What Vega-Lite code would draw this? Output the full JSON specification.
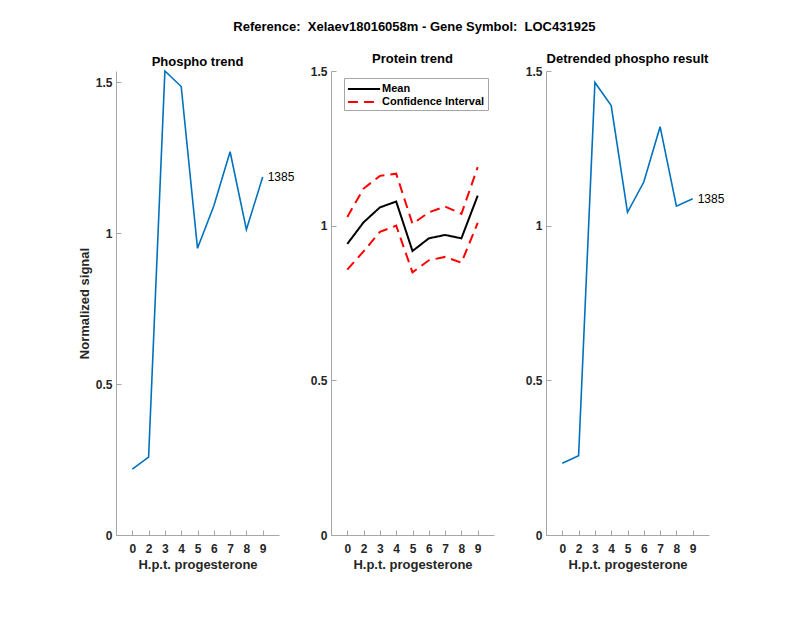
{
  "$schema": "https://vega.github.io/schema/vega-lite/v6.json",
  "background": "white",
  "padding": {"left": 78, "top": 21, "right": 5, "bottom": 5},
  "title": {
    "text": "Reference:\u00a0 Xelaev18016058m - Gene Symbol:\u00a0 LOC431925",
    "anchor": "middle",
    "dx": 13,
    "fontSize": 13,
    "fontWeight": "bold",
    "font": "Liberation Sans",
    "color": "#000000",
    "offset": 19
  },
  "config": {
    "view": {"stroke": null},
    "font": "Liberation Sans",
    "title": {"fontSize": 13, "fontWeight": "bold", "font": "Liberation Sans", "color": "#000000", "offset": -1},
    "axis": {
      "domainColor": "#a6a6a6",
      "tickColor": "#a6a6a6",
      "tickSize": -5,
      "grid": false,
      "labelFont": "Liberation Sans",
      "labelFontSize": 12,
      "labelFontWeight": "bold",
      "labelColor": "#262626",
      "titleFont": "Liberation Sans",
      "titleFontSize": 13,
      "titleFontWeight": "bold",
      "titleColor": "#262626"
    },
    "axisX": {"labelAngle": 0, "labelPadding": 13, "titlePadding": 4},
    "axisY": {"labelPadding": 9, "titlePadding": 4},
    "legend": {
      "labelFont": "Liberation Sans",
      "labelFontSize": 11,
      "labelFontWeight": "bold",
      "labelColor": "#000000"
    }
  },
  "datasets": {
    "phospho": [
      {"hpt": 0, "signal": 0.218, "id": "1385"},
      {"hpt": 2, "signal": 0.258, "id": "1385"},
      {"hpt": 3, "signal": 1.5375, "id": "1385"},
      {"hpt": 4, "signal": 1.486, "id": "1385"},
      {"hpt": 5, "signal": 0.950, "id": "1385"},
      {"hpt": 6, "signal": 1.090, "id": "1385"},
      {"hpt": 7, "signal": 1.270, "id": "1385"},
      {"hpt": 8, "signal": 1.012, "id": "1385"},
      {"hpt": 9, "signal": 1.186, "id": "1385"}
    ],
    "protein": [
      {"hpt": 0, "series": "Mean", "kind": "Mean", "signal": 0.941},
      {"hpt": 2, "series": "Mean", "kind": "Mean", "signal": 1.011},
      {"hpt": 3, "series": "Mean", "kind": "Mean", "signal": 1.059},
      {"hpt": 4, "series": "Mean", "kind": "Mean", "signal": 1.078},
      {"hpt": 5, "series": "Mean", "kind": "Mean", "signal": 0.918},
      {"hpt": 6, "series": "Mean", "kind": "Mean", "signal": 0.959},
      {"hpt": 7, "series": "Mean", "kind": "Mean", "signal": 0.970},
      {"hpt": 8, "series": "Mean", "kind": "Mean", "signal": 0.959},
      {"hpt": 9, "series": "Mean", "kind": "Mean", "signal": 1.097},
      {"hpt": 0, "series": "Upper", "kind": "Confidence Interval", "signal": 1.028},
      {"hpt": 2, "series": "Upper", "kind": "Confidence Interval", "signal": 1.120},
      {"hpt": 3, "series": "Upper", "kind": "Confidence Interval", "signal": 1.161},
      {"hpt": 4, "series": "Upper", "kind": "Confidence Interval", "signal": 1.168},
      {"hpt": 5, "series": "Upper", "kind": "Confidence Interval", "signal": 1.006},
      {"hpt": 6, "series": "Upper", "kind": "Confidence Interval", "signal": 1.043},
      {"hpt": 7, "series": "Upper", "kind": "Confidence Interval", "signal": 1.062},
      {"hpt": 8, "series": "Upper", "kind": "Confidence Interval", "signal": 1.038},
      {"hpt": 9, "series": "Upper", "kind": "Confidence Interval", "signal": 1.189},
      {"hpt": 0, "series": "Lower", "kind": "Confidence Interval", "signal": 0.858},
      {"hpt": 2, "series": "Lower", "kind": "Confidence Interval", "signal": 0.917},
      {"hpt": 3, "series": "Lower", "kind": "Confidence Interval", "signal": 0.980},
      {"hpt": 4, "series": "Lower", "kind": "Confidence Interval", "signal": 1.000},
      {"hpt": 5, "series": "Lower", "kind": "Confidence Interval", "signal": 0.849},
      {"hpt": 6, "series": "Lower", "kind": "Confidence Interval", "signal": 0.888},
      {"hpt": 7, "series": "Lower", "kind": "Confidence Interval", "signal": 0.899},
      {"hpt": 8, "series": "Lower", "kind": "Confidence Interval", "signal": 0.880},
      {"hpt": 9, "series": "Lower", "kind": "Confidence Interval", "signal": 1.009}
    ],
    "detrended": [
      {"hpt": 0, "signal": 0.232, "id": "1385"},
      {"hpt": 2, "signal": 0.256, "id": "1385"},
      {"hpt": 3, "signal": 1.463, "id": "1385"},
      {"hpt": 4, "signal": 1.388, "id": "1385"},
      {"hpt": 5, "signal": 1.043, "id": "1385"},
      {"hpt": 6, "signal": 1.141, "id": "1385"},
      {"hpt": 7, "signal": 1.320, "id": "1385"},
      {"hpt": 8, "signal": 1.063, "id": "1385"},
      {"hpt": 9, "signal": 1.087, "id": "1385"}
    ]
  },
  "spacing": 52,
  "bounds": "flush",
  "resolve": {
    "scale": {"color": "independent", "strokeDash": "independent"},
    "legend": {"color": "independent", "strokeDash": "independent"}
  },
  "hconcat": [
    {
      "width": 163,
      "height": 464,
      "title": "Phospho trend",
      "data": {"name": "phospho"},
      "encoding": {
        "x": {"field": "hpt", "type": "ordinal", "scale": {"type": "point", "padding": 1}, "axis": {"title": "H.p.t. progesterone"}},
        "y": {"field": "signal", "type": "quantitative", "scale": {"domain": [0, 1.5375], "nice": false, "zero": true}, "axis": {"title": "Normalized signal", "values": [0, 0.5, 1, 1.5], "format": "~g"}}
      },
      "layer": [
        {"mark": {"type": "line", "color": "#0072BD", "strokeWidth": 1.6}},
        {
          "transform": [{"filter": "datum.hpt === 9"}],
          "mark": {"type": "text", "align": "left", "baseline": "middle", "dx": 5, "fontSize": 12, "font": "Liberation Sans", "color": "#000000"},
          "encoding": {"text": {"field": "id"}}
        }
      ]
    },
    {
      "width": 163,
      "height": 464,
      "title": "Protein trend",
      "data": {"name": "protein"},
      "mark": {"type": "line", "strokeWidth": 2},
      "encoding": {
        "x": {"field": "hpt", "type": "ordinal", "scale": {"type": "point", "padding": 1}, "axis": {"title": "H.p.t. progesterone"}},
        "y": {"field": "signal", "type": "quantitative", "scale": {"domain": [0, 1.5], "nice": false}, "axis": {"title": null, "values": [0, 0.5, 1, 1.5], "format": "~g"}},
        "detail": {"field": "series"},
        "color": {
          "field": "kind",
          "type": "nominal",
          "scale": {"domain": ["Mean", "Confidence Interval"], "range": ["#000000", "#ff0000"]},
          "legend": {
            "title": null,
            "orient": "none",
            "legendX": 13,
            "legendY": 7,
            "fillColor": "white",
            "strokeColor": "#a6a6a6",
            "padding": 3,
            "symbolType": "M-2.3,0H2.3",
            "symbolSize": 196,
            "symbolStrokeWidth": 2,
            "symbolOffset": 9,
            "labelOffset": 10,
            "rowPadding": 0
          }
        },
        "strokeDash": {
          "field": "kind",
          "type": "nominal",
          "scale": {"domain": ["Mean", "Confidence Interval"], "range": [[1, 0], [10, 6]]},
          "legend": {
            "title": null,
            "orient": "none",
            "legendX": 13,
            "legendY": 7,
            "fillColor": "white",
            "strokeColor": "#a6a6a6",
            "padding": 3,
            "symbolType": "M-2.3,0H2.3",
            "symbolSize": 196,
            "symbolStrokeWidth": 2,
            "symbolOffset": 9,
            "labelOffset": 10,
            "rowPadding": 0
          }
        }
      }
    },
    {
      "width": 163,
      "height": 464,
      "title": "Detrended phospho result",
      "data": {"name": "detrended"},
      "encoding": {
        "x": {"field": "hpt", "type": "ordinal", "scale": {"type": "point", "padding": 1}, "axis": {"title": "H.p.t. progesterone"}},
        "y": {"field": "signal", "type": "quantitative", "scale": {"domain": [0, 1.5], "nice": false}, "axis": {"title": null, "values": [0, 0.5, 1, 1.5], "format": "~g"}}
      },
      "layer": [
        {"mark": {"type": "line", "color": "#0072BD", "strokeWidth": 1.6}},
        {
          "transform": [{"filter": "datum.hpt === 9"}],
          "mark": {"type": "text", "align": "left", "baseline": "middle", "dx": 5, "fontSize": 12, "font": "Liberation Sans", "color": "#000000"},
          "encoding": {"text": {"field": "id"}}
        }
      ]
    }
  ]
}
